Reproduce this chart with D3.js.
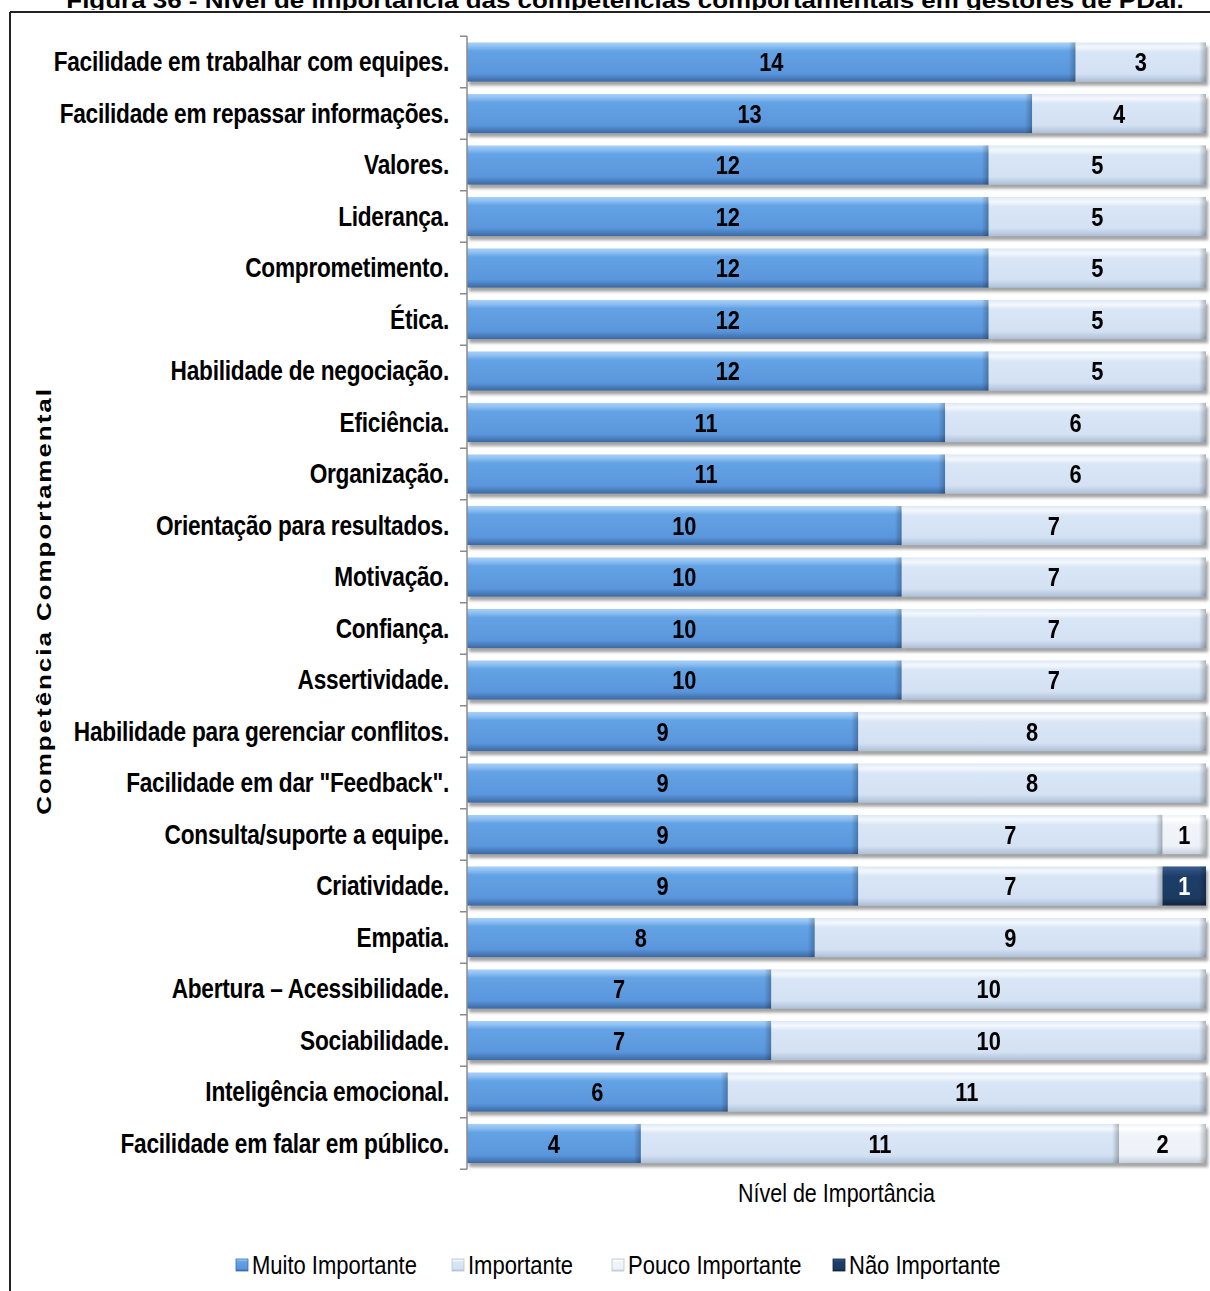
<!DOCTYPE html>
<html>
<head>
<meta charset="utf-8">
<script src="https://cdn.jsdelivr.net/npm/d3@7"></script>
<style>
  body { margin: 0; background: #fff; }
  svg { display: block; }
</style>
</head>
<body>
<script>
// chart data
var categories = [
  "Facilidade em trabalhar com equipes.",
  "Facilidade em repassar informações.",
  "Valores.",
  "Liderança.",
  "Comprometimento.",
  "Ética.",
  "Habilidade de negociação.",
  "Eficiência.",
  "Organização.",
  "Orientação para resultados.",
  "Motivação.",
  "Confiança.",
  "Assertividade.",
  "Habilidade para gerenciar conflitos.",
  "Facilidade em dar \"Feedback\".",
  "Consulta/suporte a equipe.",
  "Criatividade.",
  "Empatia.",
  "Abertura – Acessibilidade.",
  "Sociabilidade.",
  "Inteligência emocional.",
  "Facilidade em falar em público."
];
var seriesNames = ["Muito Importante", "Importante", "Pouco Importante", "Não Importante"];
var muitoImportante = [14, 13, 12, 12, 12, 12, 12, 11, 11, 10, 10, 10, 10, 9, 9, 9, 9, 8, 7, 7, 6, 4];
var importante      = [3, 4, 5, 5, 5, 5, 5, 6, 6, 7, 7, 7, 7, 8, 8, 7, 7, 9, 10, 10, 11, 11];
var poucoImportante = [0, 0, 0, 0, 0, 0, 0, 0, 0, 0, 0, 0, 0, 0, 0, 1, 0, 0, 0, 0, 0, 2];
var naoImportante   = [0, 0, 0, 0, 0, 0, 0, 0, 0, 0, 0, 0, 0, 0, 0, 0, 1, 0, 0, 0, 0, 0];
var xMax = 17;

var titleText = "Figura 36 - Nível de importância das competências comportamentais em gestores de PDaI.";
var yTitle = "Competência  Comportamental";
var xTitle = "Nível de Importância";

var width = 1210, height = 1291;
var font = "'Liberation Sans', Arial, sans-serif";
var squeeze = 0.84; // the figure's text is narrow (Arial Narrow look)

var rows = categories.map(function(c, i) {
  return {
    cat: c,
    "Muito Importante": muitoImportante[i],
    "Importante": importante[i],
    "Pouco Importante": poucoImportante[i],
    "Não Importante": naoImportante[i]
  };
});

var stack = d3.stack().keys(seriesNames)(rows);

var svg = d3.select("body").append("svg")
  .attr("width", width)
  .attr("height", height);

var defs = svg.append("defs");

// bar gradients (the glossy office look)
var grads = {
  "Muito Importante": [["0", "#a9d0f7"], ["0.1", "#8ec0f2"], ["0.22", "#63a2e4"], ["0.8", "#5a96dc"], ["1", "#3b69a2"]],
  "Importante": [["0", "#dde8f6"], ["0.12", "#f4f8fd"], ["0.25", "#d9e6f6"], ["0.8", "#d3e1f3"], ["1", "#aebfd6"]],
  "Pouco Importante": [["0", "#eef3f9"], ["0.12", "#ffffff"], ["0.25", "#f1f5fa"], ["0.8", "#edf2f8"], ["1", "#c6d0dc"]],
  "Não Importante": [["0", "#3a5f8f"], ["0.12", "#2b4d7a"], ["0.25", "#1f3e68"], ["0.8", "#1c3a62"], ["1", "#112640"]]
};
seriesNames.forEach(function(k, i) {
  var g = defs.append("linearGradient")
    .attr("id", "g" + i)
    .attr("x1", 0).attr("y1", 0).attr("x2", 0).attr("y2", 1);
  grads[k].forEach(function(s) {
    g.append("stop").attr("offset", s[0]).attr("stop-color", s[1]);
  });
});

var edge = defs.append("linearGradient").attr("id", "edge")
  .attr("x1", 0).attr("y1", 0).attr("x2", 1).attr("y2", 0);
edge.append("stop").attr("offset", "0").attr("stop-color", "#000").attr("stop-opacity", 0);
edge.append("stop").attr("offset", "1").attr("stop-color", "#000").attr("stop-opacity", 0.25);

var shadow = defs.append("filter").attr("id", "shadow")
  .attr("x", "-2%").attr("y", "-20%").attr("width", "104%").attr("height", "160%");
shadow.append("feDropShadow")
  .attr("dx", 2).attr("dy", 4).attr("stdDeviation", 1.5)
  .attr("flood-color", "#555").attr("flood-opacity", 0.55);

// frame and (cut) figure title
svg.append("text")
  .attr("transform", "translate(625,8) scale(1.18,1)")
  .attr("text-anchor", "middle")
  .style("font-family", font)
  .style("font-weight", "bold")
  .style("font-size", "22px")
  .text(titleText);

svg.append("rect")
  .attr("x", 0).attr("y", 10).attr("width", width).attr("height", 3)
  .attr("fill", "#fff");
svg.append("line")
  .attr("x1", 10).attr("x2", width).attr("y1", 12).attr("y2", 12)
  .attr("stroke", "#222").attr("stroke-width", 2);
svg.append("line")
  .attr("x1", 10).attr("x2", 10).attr("y1", 12).attr("y2", height)
  .attr("stroke", "#222").attr("stroke-width", 2);

// scales
var x = d3.scaleLinear().domain([0, xMax]).range([467, 1206]);
var y = d3.scaleBand().domain(categories).range([36.25, 1169.25])
  .paddingInner(0.24).paddingOuter(0.12);

// bars
var rowG = svg.append("g").selectAll("g.row")
  .data(categories)
  .enter().append("g")
  .attr("class", "row")
  .attr("filter", "url(#shadow)");

stack.forEach(function(layer, li) {
  layer.forEach(function(d, i) {
    if (d[1] - d[0] <= 0) return;
    var g = d3.select(rowG.nodes()[i]);
    var x0 = x(d[0]), x1 = x(d[1]);
    var yy = y(categories[i]), h = y.bandwidth();
    g.append("rect")
      .attr("x", x0).attr("y", yy)
      .attr("width", x1 - x0).attr("height", h)
      .attr("fill", "url(#g" + li + ")");
    g.append("rect")
      .attr("x", x1 - 7).attr("y", yy)
      .attr("width", 7).attr("height", h)
      .attr("fill", "url(#edge)");
    g.append("text")
      .attr("transform", "translate(" + ((x0 + x1) / 2) + "," + (yy + h / 2 + 9) + ") scale(" + squeeze + ",1)")
      .attr("text-anchor", "middle")
      .style("font-family", font)
      .style("font-weight", "bold")
      .style("font-size", "26px")
      .attr("fill", li === 3 ? "#fff" : "#000")
      .text(d[1] - d[0]);
  });
});

// category axis
var yAxis = svg.append("g")
  .attr("transform", "translate(467,0)");
yAxis.append("line")
  .attr("x1", 0).attr("x2", 0)
  .attr("y1", y.range()[0]).attr("y2", y.range()[1])
  .attr("stroke", "#8a8a8a").attr("stroke-width", 1.5);
yAxis.selectAll("line.tick")
  .data(d3.range(categories.length + 1))
  .enter().append("line")
  .attr("class", "tick")
  .attr("x1", -7).attr("x2", 0)
  .attr("y1", function(i) { return y.range()[0] + i * y.step(); })
  .attr("y2", function(i) { return y.range()[0] + i * y.step(); })
  .attr("stroke", "#8a8a8a").attr("stroke-width", 1.5);

svg.append("g").selectAll("text")
  .data(categories)
  .enter().append("text")
  .attr("transform", function(d) {
    return "translate(449," + (y(d) + y.bandwidth() / 2 + 9) + ") scale(" + squeeze + ",1)";
  })
  .attr("text-anchor", "end")
  .style("font-family", font)
  .style("font-weight", "bold")
  .style("font-size", "27px")
  .style("letter-spacing", "-0.3px")
  .text(function(d) { return d; });

// axis titles
svg.append("text")
  .attr("transform", "translate(51,601) rotate(-90) scale(1.3,1)")
  .attr("text-anchor", "middle")
  .style("font-family", font)
  .style("font-weight", "bold")
  .style("font-size", "20px")
  .style("letter-spacing", "1.5px")
  .text(yTitle);

svg.append("text")
  .attr("transform", "translate(" + ((x.range()[0] + x.range()[1]) / 2) + ",1202) scale(0.86,1)")
  .attr("text-anchor", "middle")
  .style("font-family", font)
  .style("font-size", "25px")
  .text(xTitle);

// legend
var legendX = [236, 452, 612, 833];
var legend = svg.append("g").selectAll("g")
  .data(seriesNames)
  .enter().append("g")
  .attr("transform", function(d, i) { return "translate(" + legendX[i] + ",1259)"; });
legend.append("rect")
  .attr("width", 12).attr("height", 12)
  .attr("fill", function(d, i) { return "url(#g" + i + ")"; })
  .attr("stroke", function(d, i) { return i === 0 ? "#3e6ea8" : i === 3 ? "#112640" : "#b8c3d2"; })
  .attr("stroke-width", 0.8);
legend.append("text")
  .attr("transform", "translate(16,15) scale(0.88,1)")
  .style("font-family", font)
  .style("font-size", "25px")
  .text(function(d) { return d; });
</script>
</body>
</html>
